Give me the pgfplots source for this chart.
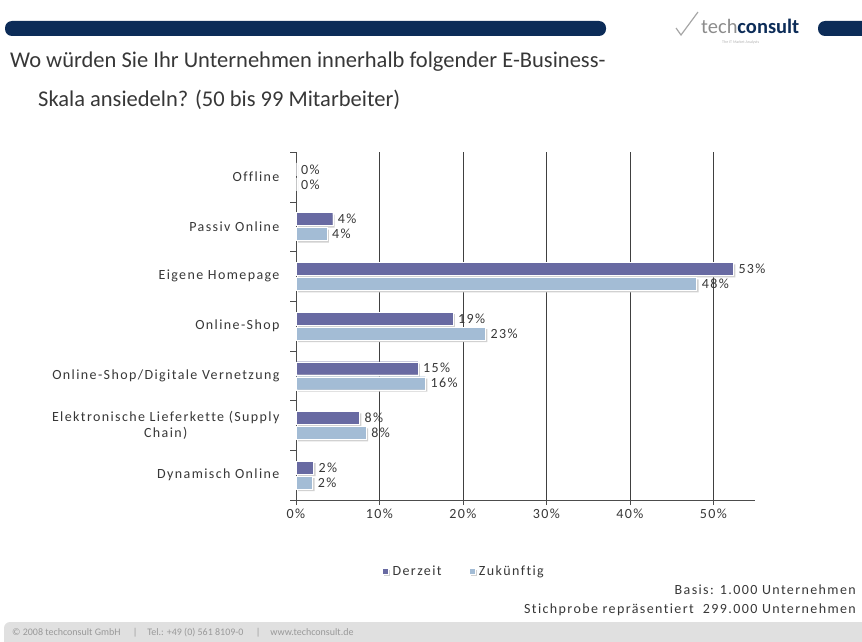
\documentclass[border=0pt]{standalone}
\usepackage{fontspec}
\setmainfont{Carlito}
\newfontfamily\chartfont[LetterSpace=10,Ligatures=NoCommon]{Carlito}
\usepackage{pgfplots}
\usepackage{pgfplotstable}
\pgfplotsset{compat=1.18}

\definecolor{navy}{RGB}{12,44,88}
\definecolor{derzeit}{RGB}{104,106,162}
\definecolor{zukunft}{RGB}{163,188,213}
\definecolor{txt}{RGB}{55,55,55}

% rows: 0 = Offline (top) ... 6 = Dynamisch Online (bottom)
\pgfplotstableread{
pos derzeit dlab zukunft zlab
0   0.0    0    0.0    0
1   4.4    4    3.7    4
2   52.4   53   48.0   48
3   18.8   19   22.7   23
4   14.6   15   15.5   16
5   7.6    8    8.4    8
6   2.1    2    2.0    2
}\ebusiness

\begin{document}
\begin{tikzpicture}[x=1pt,y=1pt]
\path[use as bounding box] (0,0) rectangle (862,-642);

% header band
\fill[navy,rounded corners=7pt] (5,-21) rectangle (606,-36);
\fill[navy,rounded corners=7pt] (818,-21) rectangle (880,-36);
\draw[black!35,line width=1.2pt] (676,-28) -- (681,-35) -- (698,-12);
\node[anchor=base west,inner sep=0pt,font=\fontsize{20.5}{20}\selectfont] at (701,-34)
  {\textcolor{black!45}{tech}\textcolor{navy}{\bfseries consult}};
\node[anchor=base west,inner sep=0pt,font=\fontsize{4}{4}\selectfont,text=black!30] at (722,-44)
  {The IT Market Analysts};

% title
\node[anchor=west,inner sep=0pt,font=\fontsize{22.5}{22}\selectfont,text=txt] at (10,-62)
  {Wo würden Sie Ihr Unternehmen innerhalb folgender E-Business-};
\node[anchor=west,inner sep=0pt,font=\fontsize{22.5}{22}\selectfont,text=txt] at (38,-100)
  {Skala ansiedeln? (50 bis 99 Mitarbeiter)};

\begin{axis}[
  at={(296pt,-500pt)}, anchor=south west,
  scale only axis,
  width=459pt, height=348pt,
  xbar, bar width=13pt,
  xmin=0, xmax=55,
  ymin=-0.5, ymax=6.5,
  y dir=reverse,
  axis x line*=bottom, axis y line*=left,
  axis line style={black!70},
  xtick={0,10,...,50},
  xticklabel={\pgfmathprintnumber{\tick}\%},
  ytick={0,...,6},
  yticklabels={Offline,Passiv Online,Eigene Homepage,Online-Shop,Online-Shop/Digitale Vernetzung,{Elektronische Lieferkette (Supply\\Chain)},Dynamisch Online},
  minor ytick={-0.5,0.5,...,6.5},
  major y tick style={draw=none},
  minor tick length=6pt,
  major tick length=5pt,
  tick align=outside,
  tick style={black!70},
  xmajorgrids, grid style={black!75, line width=0.6pt},
  yticklabel style={align=center, xshift=-8pt},
  ticklabel style={font=\chartfont\fontsize{14}{16}\selectfont, text=txt},
  /pgf/number format/assume math mode=true,
  nodes near coords={\pgfmathprintnumber{\pgfplotspointmeta}\%},
  nodes near coords style={font=\chartfont\fontsize{14}{16}\selectfont, text=txt, anchor=west, inner sep=5pt},
  point meta=explicit,
  legend style={at={(0.365,-0.205)}, anchor=center, draw=none, fill=none,
    legend columns=2, font=\chartfont\fontsize{14}{16}\selectfont, text=txt,
    /tikz/every even column/.append style={column sep=24pt}},
  legend image code/.code={\fill[#1] (0pt,-3pt) rectangle (6pt,3pt); \path (-1pt,0pt) (8pt,0pt);},
]
\addplot[fill=derzeit, draw=white, bar shift=7.5pt,
  preaction={fill=black!18, draw=none, transform canvas={xshift=2pt,yshift=-2pt}}]
  table[x=derzeit, y=pos, meta=dlab] {\ebusiness};
\addlegendentry{Derzeit}
\addplot[fill=zukunft, draw=white, bar shift=-7.5pt,
  preaction={fill=black!18, draw=none, transform canvas={xshift=2pt,yshift=-2pt}}]
  table[x=zukunft, y=pos, meta=zlab] {\ebusiness};
\addlegendentry{Zukünftig}
\end{axis}

% notes
\node[anchor=east,inner sep=0pt,font=\chartfont\fontsize{14}{16}\selectfont,text=txt] at (856,-590)
  {Basis: 1.000 Unternehmen};
\node[anchor=east,inner sep=0pt,font=\chartfont\fontsize{14}{16}\selectfont,text=txt] at (856,-610)
  {Stichprobe repräsentiert\ \ 299.000 Unternehmen};

% footer
\fill[black!12,rounded corners=6pt] (4,-622) rectangle (880,-650);
\path[use as bounding box] (0,0) rectangle (862,-642);
\node[anchor=west,inner sep=0pt,font=\fontsize{10}{10}\selectfont,text=black!40] at (12,-633)
  {© 2008 techconsult GmbH \quad|\quad Tel.: +49 (0) 561 8109-0 \quad|\quad www.techconsult.de};
\end{tikzpicture}
\end{document}
